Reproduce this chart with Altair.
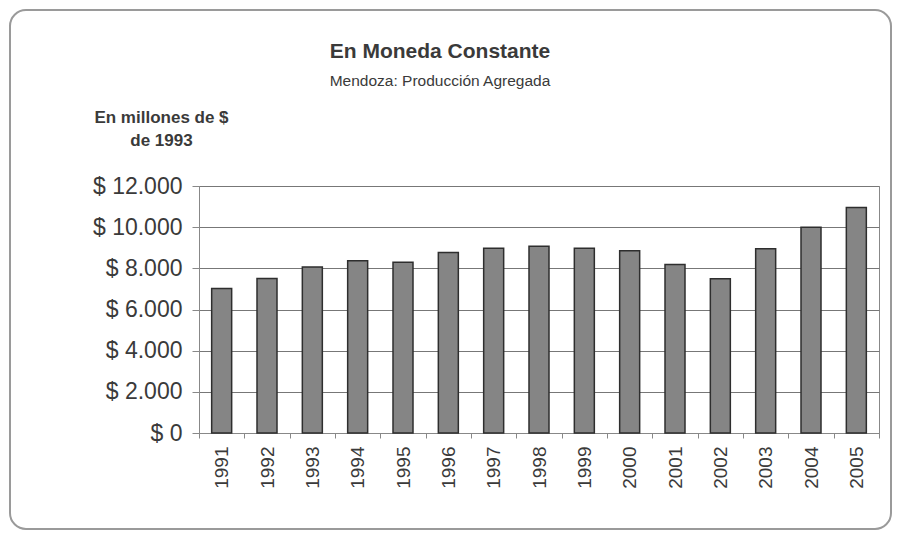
import altair as alt
import pandas as pd

years = [str(y) for y in range(1991, 2006)]
values = [7020, 7510, 8070, 8370, 8290, 8770, 8970, 9070, 8980, 8850, 8190, 7490, 8950, 9990, 10960]
y_ticks = [0, 2000, 4000, 6000, 8000, 10000, 12000]

title_text = "En Moneda Constante"
subtitle_text = "Mendoza: Producción Agregada"
y_title = ["En millones de $", "de 1993"]

df = pd.DataFrame({"year": years, "value": values})
FONT = "Liberation Sans"
TXT = "#3a3a3a"

frame = alt.Chart(pd.DataFrame({"k": [0]})).mark_rect(
    filled=False, stroke="#9a9a9a", strokeWidth=2, cornerRadius=16
).encode(x=alt.value(-189), x2=alt.value(692), y=alt.value(-176), y2=alt.value(343))

bars = alt.Chart(df).mark_bar(
    size=20, color="#858585", stroke="#2e2e2e", strokeWidth=1.5
).encode(
    x=alt.X(
        "year:O",
        scale=alt.Scale(paddingInner=0, paddingOuter=0),
        axis=alt.Axis(
            title=None, labelAngle=-90, labelFontSize=19, labelPadding=8,
            labelColor=TXT, labelFont=FONT, tickBand="extent", tickSize=5,
            tickColor="#888", domainColor="#888", grid=False,
        ),
    ),
    y=alt.Y(
        "value:Q",
        scale=alt.Scale(domain=[0, 12000]),
        axis=alt.Axis(
            values=y_ticks, grid=True, gridColor="#777", tickSize=7,
            tickColor="#888", domainColor="#888",
            labelFontSize=23, labelPadding=10, labelColor=TXT, labelFont=FONT,
            labelExpr="'$ ' + replace(format(datum.value, ','), ',', '.')",
            title=y_title, titleAngle=0, titleAlign="center", titleBaseline="top",
            titleX=-38, titleY=-77, titleFontSize=17, titleFontWeight="bold",
            titleColor=TXT, titleFont=FONT, titleLineHeight=23,
        ),
    ),
)

chart = alt.layer(frame, bars).properties(
    width=680,
    height=247,
    padding={"left": 191, "top": 178, "right": 14, "bottom": 100},
    autosize="none",
    background="white",
    title=alt.TitleParams(
        text=title_text, subtitle=subtitle_text, anchor="middle", dx=-99,
        font=FONT, fontSize=21, fontWeight="bold", color=TXT,
        subtitleFont=FONT, subtitleFontSize=15.5, subtitleColor=TXT,
        subtitlePadding=12, offset=-80,
    ),
).configure_view(stroke="#888")

chart.save("out.html", embed_options={"renderer": "svg", "actions": False})
